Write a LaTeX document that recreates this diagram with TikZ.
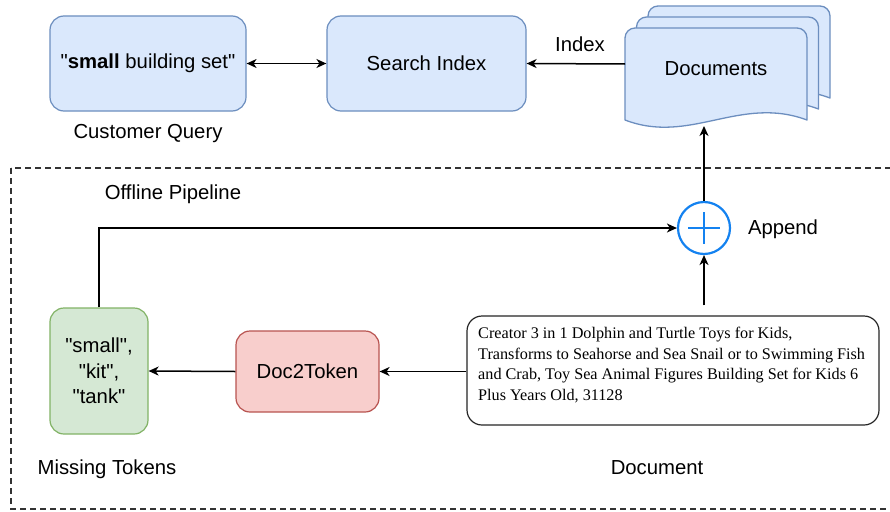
\documentclass[tikz,border=0pt]{standalone}
\usepackage{fontspec}
\setmainfont{Liberation Sans}
\newfontfamily\serifdoc{Liberation Serif}
\usetikzlibrary{arrows.meta,calc}
\definecolor{bfill}{HTML}{DAE8FC}
\definecolor{bline}{HTML}{6C8EBF}
\definecolor{rfill}{HTML}{F8CECC}
\definecolor{rline}{HTML}{B85450}
\definecolor{gfill}{HTML}{D5E8D4}
\definecolor{gline}{HTML}{82B366}
\definecolor{plusblue}{RGB}{20,130,240}
\newcommand{\dq}{\textquotedbl}
\begin{document}
\begin{tikzpicture}[x=1pt,y=-1pt,
  every node/.style={font=\fontsize{20.3}{24}\selectfont, text=black},
  box/.style={draw, rounded corners=14pt, line width=1.2pt, inner sep=0pt},
  bluebox/.style={box, fill=bfill, draw=bline},
  redbox/.style={box, fill=rfill, draw=rline},
  greenbox/.style={box, fill=gfill, draw=gline},
  tipstyle/.style={Stealth[length=10pt,width=9pt,inset=3pt]},
  conn/.style={line width=1.5pt, -{Stealth[length=10pt,width=9pt,inset=3pt]}},
  docsheet/.style={fill=bfill, draw=bline, line width=1.3pt, line join=round}
]
\useasboundingbox (0,0) rectangle (890,511);
\clip (0,0) rectangle (890,511);
\fill[white] (0,0) rectangle (890,511);

% dashed offline region
\draw[line width=1.4pt, dash pattern=on 6pt off 4pt, draw=black!80] (11,168) rectangle (910,509);

% top row
\node[bluebox, minimum width=196, minimum height=95] (query) at (148,63.5) {\dq\textbf{small} building set\dq};
\node (querylab) at (148,134) {Customer Query};
\node[bluebox, minimum width=199, minimum height=95] (search) at (426.5,63.5) {Search Index};

% documents stack
\foreach \dx/\dy in {23/-22, 11.5/-11, 0/0}{
  \draw[docsheet, shift={(\dx,\dy)}]
    (625,120) -- (625,38) arc[start angle=180, end angle=270, radius=10]
    -- (797,28) arc[start angle=270, end angle=360, radius=10]
    -- (807,120) .. controls (740,95) and (690,145) .. (625,120) -- cycle;
}
\node (docs) at (716,69) {Documents};
\coordinate (docsW) at (625,64);
\coordinate (docsS) at (704,126);

\node (indexlab) at (580,44) {Index};
\draw[conn] (docsW) -- (search.east);
\draw[line width=1.5pt, {Stealth[length=10pt,width=9pt,inset=3pt]}-{Stealth[length=10pt,width=9pt,inset=3pt]}] (query.east) -- (search.west);

\node (offlab) at (173,194) {Offline Pipeline};

% append circle
\node[circle, draw=plusblue, line width=2.2pt, fill=white, minimum size=52pt, inner sep=0pt] (plus) at (704,228) {};
\draw[plusblue, line width=2pt] ($(plus.center)+(-16,0)$) -- ($(plus.center)+(16,0)$);
\draw[plusblue, line width=2pt] ($(plus.center)+(0,-16)$) -- ($(plus.center)+(0,16)$);
\node (appendlab) at (783,229) {Append};
\draw[conn] (plus.north) -- (docsS);

% document box
\node[draw=black!85, rounded corners=15pt, line width=1.2pt, fill=white, minimum width=412, minimum height=109, inner sep=0pt] (doc) at (673,370.5) {};
\node[anchor=north west, align=left, inner sep=0pt, font=\serifdoc\fontsize{16.2}{20.6}\selectfont] (doctext) at (478,327)
 {Creator 3 in 1 Dolphin and Turtle Toys for Kids,\\
  Transforms to Seahorse and Sea Snail or to Swimming Fish\\
  and Crab, Toy Sea Animal Figures Building Set for Kids 6\\
  Plus Years Old, 31128};
\node (doclab) at (657,468) {Document};
\draw[conn, shorten <=10pt] (plus |- doc.north) -- (plus.south);

% doc2token and missing tokens
\node[redbox, minimum width=143, minimum height=81] (d2t) at (307.5,371.5) {Doc2Token};
\node[greenbox, minimum width=98, minimum height=126, align=center, font=\fontsize{20.3}{25.5}\selectfont] (miss) at (99,371) {\dq small\dq,\\\dq kit\dq,\\\dq tank\dq};
\node (misslab) at (107,469) {Missing Tokens};

\draw[conn] (doc.west |- d2t) -- (d2t.east);
\draw[conn] (d2t.west) -- (miss.east);
\draw[conn] (miss.north) |- (plus.west);
\end{tikzpicture}
\end{document}
